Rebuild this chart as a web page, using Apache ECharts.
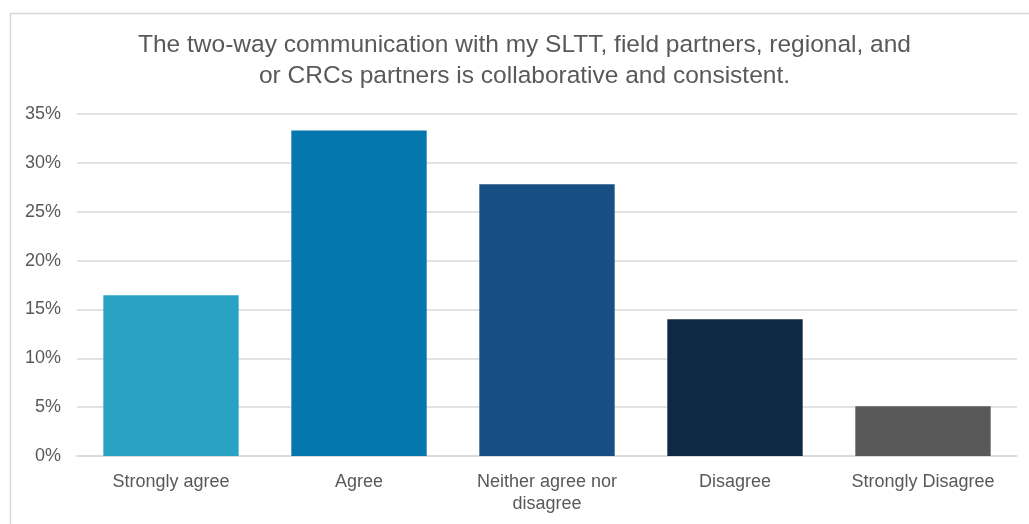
<!DOCTYPE html>
<html>
<head>
<meta charset="utf-8">
<script src="https://cdn.jsdelivr.net/npm/echarts@6/dist/echarts.min.js"></script>
<style>
  html, body { margin: 0; padding: 0; background: #ffffff; }
  #chart { width: 1029px; height: 524px; }
</style>
</head>
<body>
<div id="chart"></div>
<script>
// Survey responses (share of respondents, %)
const categories = ['Strongly agree', 'Agree', 'Neither agree nor\ndisagree', 'Disagree', 'Strongly Disagree'];
const values = [16.45, 33.3, 27.8, 14.0, 5.1];
const barColors = ['#29a3c4', '#0477ae', '#174f82', '#0d2a45', '#595959'];
const yTicks = { min: 0, max: 35, interval: 5 };
const titleLines = [
  'The two-way communication with my SLTT, field partners, regional, and',
  'or CRCs partners is collaborative and consistent.'
];

const textColor = '#595959';
const fontFamily = 'Liberation Sans, Arial, sans-serif';

const chart = echarts.init(document.getElementById('chart'), null, { renderer: 'canvas' });
chart.setOption({
  backgroundColor: '#ffffff',
  animation: false,
  graphic: [{
    type: 'rect',
    left: 8, top: 11,
    shape: { width: 1040, height: 600 },
    style: { fill: 'none', stroke: '#d9d9d9', lineWidth: 1.5 },
    silent: true
  }, {
    // chart title, centred over the framed area
    type: 'text',
    left: 138,
    top: 30,
    style: {
      text: titleLines.join('\n'),
      fill: textColor,
      fontFamily: fontFamily,
      fontSize: 24.5,
      lineHeight: 31,
      textAlign: 'center'
    },
    silent: true
  }],
  grid: { left: 77, right: 12, top: 114, bottom: 68, containLabel: false },
  xAxis: {
    type: 'category',
    data: categories,
    axisLine: { show: true, lineStyle: { color: '#d9d9d9', width: 1.5 } },
    axisTick: { show: false },
    axisLabel: {
      color: textColor,
      fontFamily: fontFamily,
      fontSize: 18,
      margin: 15,
      lineHeight: 22,
      interval: 0
    }
  },
  yAxis: {
    type: 'value',
    min: yTicks.min,
    max: yTicks.max,
    interval: yTicks.interval,
    axisLine: { show: false },
    axisTick: { show: false },
    splitLine: { lineStyle: { color: '#d9d9d9', width: 1.5 } },
    axisLabel: {
      color: textColor,
      fontFamily: fontFamily,
      fontSize: 18,
      margin: 16,
      formatter: v => v + '%'
    }
  },
  series: [{
    type: 'bar',
    data: values.map((v, i) => ({ value: v, itemStyle: { color: barColors[i] } })),
    barCategoryGap: '28%'
  }]
});
</script>
</body>
</html>
